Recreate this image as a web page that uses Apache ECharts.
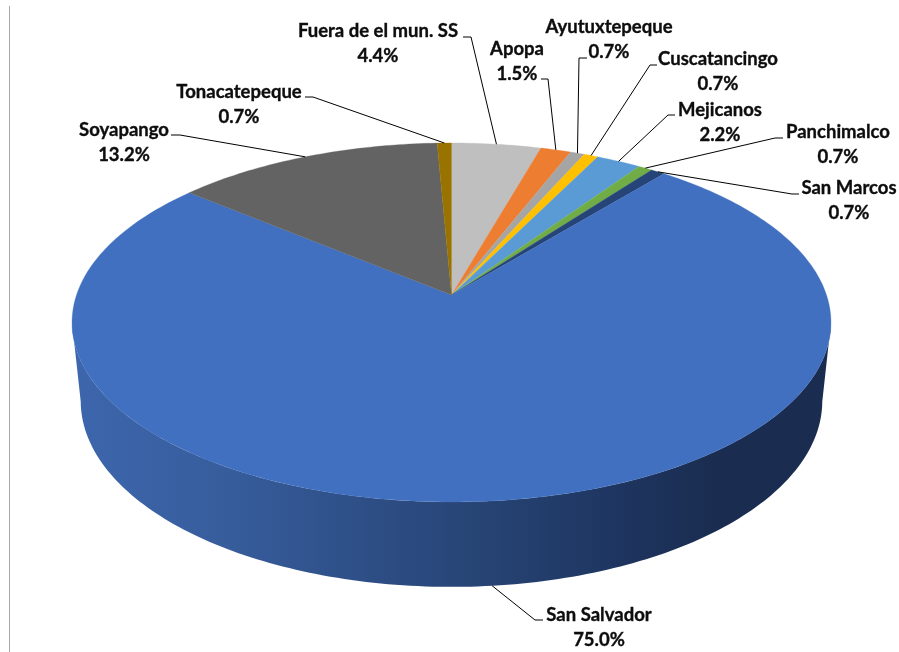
<!DOCTYPE html>
<html><head><meta charset="utf-8">
<style>html,body{margin:0;padding:0;background:#fff}#c{width:899px;height:652px}</style>
<script src="https://cdn.jsdelivr.net/npm/echarts@6/dist/echarts.min.js"></script>
</head><body><div id="c"></div>
<script>
const categories = ['Fuera de el mun. SS','Apopa','Ayutuxtepeque','Cuscatancingo','Mejicanos','Panchimalco','San Marcos','San Salvador','Soyapango','Tonacatepeque'];
const shares = [4.4,1.5,0.7,0.7,2.2,0.7,0.7,75.0,13.2,0.7];
const sliceColors = ['#BFBFBF','#ED7D31','#A5A5A5','#FFC000','#5B9BD5','#70AD47','#264478','#4170C0','#636363','#997300'];
// label layout: text centre x, first line y, elbow start, elbow corner
const labelLayout = [
  [378,31,463,37,471,37],[517,49,541,79,548,79],[609,27,587,58,579,58],[718,59,657,65,650,65],
  [720,110,675,115,668,115],[838,132,783,138,775,138],[849,188,799,194,792,194],
  [599,615,543,620,535,620],[124,130,171,135,180,135],[239,92,305,97,313,97]
];
const total = shares.reduce((a,b)=>a+b,0);
const starts = []; shares.reduce((a,v,i)=>(starts[i]=a,a+v),0);
// perspective disc projections: top rim and bottom rim
const TOP = {cx:451.5,cy:295,R:375,S:175.3,k:0.153};
const BOT = {cx:451.5,cy:373,R:366.6,S:181.8,k:0.15};
// rim angles where the side wall turns out of sight
const WALL_FROM = 98.8, WALL_TO = 261.2;
function project(d,deg){
  const t=deg*Math.PI/180, x=Math.sin(t), y=-Math.cos(t), w=1-d.k*y;
  return [d.cx+d.R*x/w, d.cy+d.S*y/w];
}
function arc(d,a0,a1){
  const pts=[], n=Math.max(2,Math.ceil(Math.abs(a1-a0)));
  for(let i=0;i<=n;i++) pts.push(project(d,a0+(a1-a0)*i/n));
  return pts;
}
const angle=p=>p/total*360;
const wallFill={type:'linear',x:72,y:0,x2:831,y2:0,global:true,colorStops:[
  {offset:0,color:'#3D66AD'},{offset:0.2,color:'#375D9C'},{offset:0.38,color:'#2E4F87'},
  {offset:0.55,color:'#264373'},{offset:0.72,color:'#1E3560'},{offset:0.85,color:'#1A2D50'},{offset:1,color:'#1A2D50'}]};
const rows=categories.map((c,i)=>({name:c,value:[i,shares[i]]}));
const chart=echarts.init(document.getElementById('c'),null,{renderer:'canvas'});
chart.setOption({
  animation:false,
  backgroundColor:'#fff',
  graphic:[{type:'line',silent:true,shape:{x1:9.5,y1:6,x2:9.5,y2:652},style:{stroke:'#A6A6A6',lineWidth:1}}],
  series:[
    {type:'custom',coordinateSystem:'none',z:1,silent:true,data:rows,renderItem(p,api){
      const i=api.value(0);
      const a0=Math.max(WALL_FROM,angle(starts[i])),a1=Math.min(WALL_TO,angle(starts[i]+api.value(1)));
      if(a1<=a0) return {type:'group',children:[]};
      return {type:'polygon',shape:{points:arc(TOP,a0,a1).concat(arc(BOT,a1,a0))},style:{fill:wallFill}};
    }},
    {type:'custom',coordinateSystem:'none',z:2,silent:true,data:rows,renderItem(p,api){
      const i=api.value(0),a0=angle(starts[i]),a1=angle(starts[i]+api.value(1));
      return {type:'polygon',shape:{points:[[TOP.cx,TOP.cy]].concat(arc(TOP,a0,a1))},style:{fill:sliceColors[i],stroke:sliceColors[i],lineWidth:0.3}};
    }},
    {type:'custom',coordinateSystem:'none',z:3,silent:true,data:rows,renderItem(p,api){
      const i=api.value(0),v=api.value(1),l=labelLayout[i];
      const mid=angle(starts[i]+v/2);
      const front=Math.cos(mid*Math.PI/180)<-0.5;
      const end=project(front?BOT:TOP,mid);
      const font='bold 18.5px Lato, "Noto Sans", sans-serif';
      const ink={fill:'#0D0D0D',stroke:'#0D0D0D',lineWidth:0.35,align:'center',verticalAlign:'middle',font};
      return {type:'group',children:[
        {type:'polyline',shape:{points:[[l[2],l[3]],[l[4],l[5]],end]},style:{stroke:'#000',lineWidth:1,fill:null}},
        {type:'text',style:Object.assign({text:categories[i],x:l[0],y:l[1]},ink)},
        {type:'text',style:Object.assign({text:v.toFixed(1)+'%',x:l[0],y:l[1]+25},ink)}
      ]};
    }}
  ]
});
</script></body></html>
